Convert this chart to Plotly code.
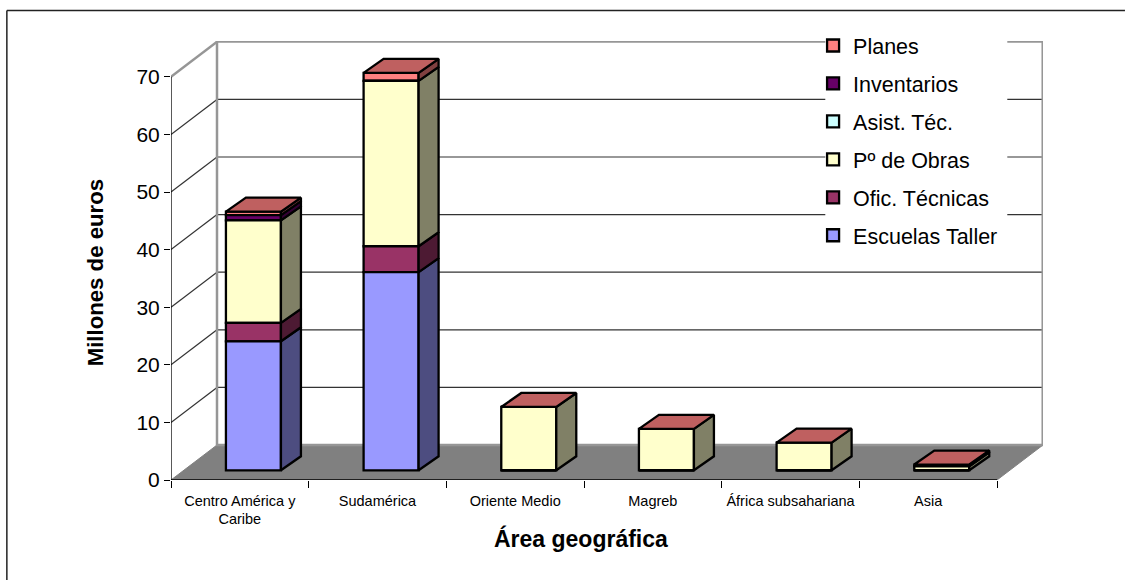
import plotly.graph_objects as go

categories = ["Centro América y<br>Caribe", "Sudamérica", "Oriente Medio", "Magreb", "África subsahariana", "Asia"]
escuelas = [22.4, 34.4, 0, 0, 0, 0]
oficinas = [3.2, 4.5, 0, 0, 0, 0]
obras = [17.8, 28.7, 11.0, 7.2, 4.8, 0.7]
asistencia = [0, 0, 0, 0, 0, 0]
inventarios = [0.9, 0, 0, 0, 0, 0.3]
planes = [0.6, 1.4, 0, 0, 0, 0]
y_ticks = [0, 10, 20, 30, 40, 50, 60, 70]

series = [
    ("Escuelas Taller", escuelas, "#9999FF", "#4D4D80"),
    ("Ofic. Técnicas", oficinas, "#993366", "#4D1A33"),
    ("Pº de Obras", obras, "#FFFFCC", "#808066"),
    ("Asist. Téc.", asistencia, "#CCFFFF", "#668080"),
    ("Inventarios", inventarios, "#660066", "#330033"),
    ("Planes", planes, "#FF8080", "#804040"),
]
TOP = "#BF6060"
FONT = "Liberation Sans, Arial, sans-serif"
EDGE = 2.3

# pixel geometry of the projected box
W, H = 1125, 580
L, R, T, B = 170.7, 1043.0, 41.0, 480.0
PX_X = (996.7 - 170.7) / 6
PX_Y = 5.76
DEPTH_X, DEPTH_Y = 46 / PX_X, 35 / PX_Y       # wall depth in data units
BAR_DX, BAR_DY = 20 / PX_X, 14 / PX_Y         # bar depth in data units
GAP_X, GAP_Y = 13.6 / PX_X, 9.7 / PX_Y        # bar offset from front
BAR_W = 55 / PX_X
XMAX = 6 + DEPTH_X
YMAX = (B - T) / PX_Y

fig = go.Figure()
n = len(categories)
x_front = [i + 0.5 + GAP_X for i in range(n)]

# cumulative bases per series
bases = [GAP_Y] * n
base_of = {}
for name, vals, col, side in series:
    base_of[name] = list(bases)
    bases = [b + v for b, v in zip(bases, vals)]

# front faces (legend order: last series first)
for name, vals, col, side in reversed(series):
    fig.add_trace(go.Bar(
        x=x_front, y=vals, base=base_of[name], width=BAR_W, name=name,
        marker=dict(color=col, line=dict(color="black", width=EDGE)),
        hoverinfo="skip", legendgroup=name,
    ))

# side faces
for name, vals, col, side in series:
    sx, sy = [], []
    for i, v in enumerate(vals):
        if v <= 0:
            continue
        x1 = x_front[i] + BAR_W / 2
        y0, y1 = base_of[name][i], base_of[name][i] + v
        sx += [x1, x1 + BAR_DX, x1 + BAR_DX, x1, x1, None]
        sy += [y0, y0 + BAR_DY, y1 + BAR_DY, y1, y0, None]
    fig.add_trace(go.Scatter(
        x=sx, y=sy, mode="lines", fill="toself", fillcolor=side,
        line=dict(color="black", width=EDGE), showlegend=False, hoverinfo="skip",
    ))

# top faces
tops_x, tops_y = [], []
for i in range(n):
    x0 = x_front[i] - BAR_W / 2
    x1 = x_front[i] + BAR_W / 2
    y = bases[i]
    tops_x += [x0, x1, x1 + BAR_DX, x0 + BAR_DX, x0, None]
    tops_y += [y, y, y + BAR_DY, y + BAR_DY, y, None]
fig.add_trace(go.Scatter(x=tops_x, y=tops_y, mode="lines", fill="toself", fillcolor=TOP,
                         line=dict(color="black", width=EDGE), showlegend=False, hoverinfo="skip"))
# front axes
fig.add_trace(go.Scatter(x=[0, 0, 6], y=[70, 0, 0], mode="lines", cliponaxis=False,
                         line=dict(color="black", width=1.3), showlegend=False, hoverinfo="skip"))

pw, ph = R - L, B - T
def px(x): return (x - L) / pw
def py(y): return (B - y) / ph
def dx(x): return (x - L) / PX_X
def dy(y): return (B - y) / PX_Y

shapes = []
GRID = "#333333"
WALL = "#969696"
# floor
shapes.append(dict(type="path", layer="below", xref="x", yref="y",
                   path=f"M0,0 L{DEPTH_X},{DEPTH_Y} L{XMAX},{DEPTH_Y} L6,0 Z",
                   fillcolor="#808080", line=dict(color="#808080", width=1)))
for v in y_ticks[1:-1]:
    shapes.append(dict(type="line", layer="below", xref="x", yref="y", x0=0, y0=v,
                       x1=DEPTH_X, y1=v + DEPTH_Y, line=dict(color=GRID, width=1.2)))
for v in y_ticks[1:-1]:
    shapes.append(dict(type="line", layer="below", xref="x", yref="y", x0=DEPTH_X, y0=v + DEPTH_Y,
                       x1=XMAX, y1=v + DEPTH_Y, line=dict(color=GRID, width=1.2)))
shapes.append(dict(type="line", layer="below", xref="x", yref="y", x0=0, y0=70,
                   x1=DEPTH_X, y1=70 + DEPTH_Y, line=dict(color=WALL, width=2.5)))
shapes.append(dict(type="rect", layer="below", xref="x", yref="y", x0=DEPTH_X, y0=DEPTH_Y,
                   x1=XMAX - 0.002, y1=YMAX - 0.1, line=dict(color=WALL, width=2.5)))
# white panel behind the legend, interrupting the wall lines
shapes.append(dict(type="rect", layer="below", xref="x", yref="y", x0=dx(825), x1=dx(1007),
                   y0=dy(255), y1=YMAX, fillcolor="white", line=dict(width=0)))
# outer frame: only top and left edges are inside the picture
shapes.append(dict(type="line", xref="paper", yref="paper", x0=px(6.5), x1=px(1125),
                   y0=py(10.5), y1=py(10.5), line=dict(color="#222222", width=1.5), layer="below"))
shapes.append(dict(type="line", xref="paper", yref="paper", x0=px(6.5), x1=px(6.5),
                   y0=py(580), y1=py(10.5), line=dict(color="#222222", width=1.5), layer="below"))

annotations = [
    dict(text="<b>Área geográfica</b>", xref="paper", yref="paper", x=px(581), y=py(538),
         xanchor="center", yanchor="middle", showarrow=False,
         font=dict(family=FONT, size=23, color="black")),
    dict(text="<b>Millones de euros</b>", xref="paper", yref="paper", x=px(95), y=py(273),
         xanchor="center", yanchor="middle", showarrow=False, textangle=-90,
         font=dict(family=FONT, size=22.2, color="black")),
]

fig.update_layout(
    width=W, height=H, autosize=False,
    margin=dict(l=L, r=W - R, t=T, b=H - B, pad=0),
    paper_bgcolor="white", plot_bgcolor="rgba(0,0,0,0)",
    barmode="overlay", shapes=shapes, annotations=annotations,
    font=dict(family=FONT, color="black"),
    legend=dict(
        x=px(813), y=py(25), xanchor="left", yanchor="top", bgcolor="rgba(0,0,0,0)",
        font=dict(family=FONT, size=21.5, color="black"),
        traceorder="grouped", tracegroupgap=7, borderwidth=0,
        itemclick=False, itemdoubleclick=False,
    ),
    xaxis=dict(
        range=[0, XMAX], showgrid=False, zeroline=False, showline=False,
        tickmode="array", tickvals=[i + 0.5 for i in range(n)], ticktext=categories,
        ticks="", tickfont=dict(family=FONT, size=14.5, color="black"), ticklabelstandoff=10,
        minor=dict(tickmode="array", tickvals=list(range(7)), ticks="outside", ticklen=7,
                   tickcolor="black", tickwidth=1.3, showgrid=False),
    ),
    yaxis=dict(
        range=[0, YMAX], showgrid=False, zeroline=False, showline=False,
        tickmode="array", tickvals=y_ticks, ticks="outside", ticklen=6, tickcolor="black",
        tickwidth=1.3, tickfont=dict(family=FONT, size=21, color="black"),
    ),
)

fig.write_html("out.html", post_script="document.body.style.margin='0';document.body.style.overflow='hidden';",
               config={"displayModeBar": False})
